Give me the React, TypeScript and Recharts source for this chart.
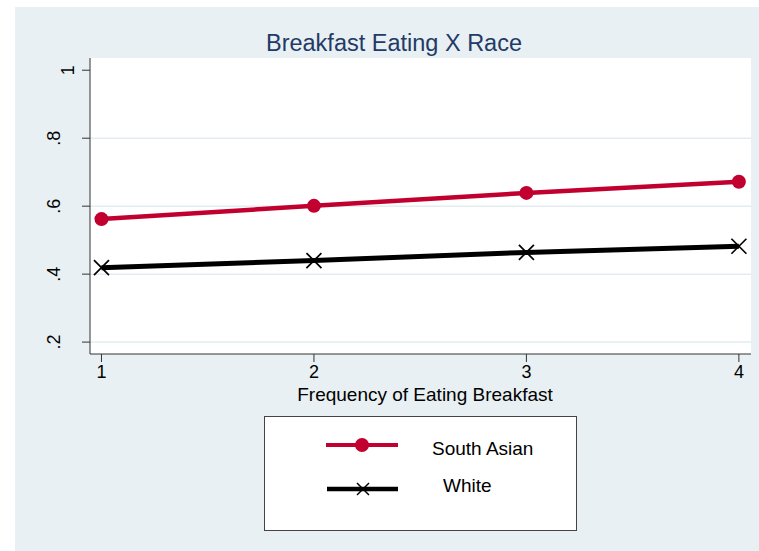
import React from "react";
import { LineChart, Line, XAxis, YAxis, CartesianGrid } from "recharts";

// Breakfast frequency (1–4) against predicted proportion, by race
const freq = [1, 2, 3, 4];
const southAsian = [0.562, 0.601, 0.639, 0.672];
const white = [0.419, 0.44, 0.464, 0.482];

const xTicks = [1, 2, 3, 4];
const yTicks = [0.2, 0.4, 0.6, 0.8, 1];
const gridValues = [0.2, 0.4, 0.6, 0.8];

const seriesNames = ["South Asian", "White"];
const seriesColors = ["#C1002F", "#000000"];

const data = freq.map((f, i) => ({ freq: f, southAsian: southAsian[i], white: white[i] }));

const FONT = "'Liberation Sans', Arial, sans-serif";
const BG = "#E8F0F3";
const GRID = "#E3ECEF";
const AXIS = "#333333";

// Stata-style labels drop the leading zero: .2, .4, ..., 1
const fmt = (v: number) => (v >= 1 ? String(v) : String(v).replace(/^0/, ""));

const YTick = (props: any) => {
  const { x, y, payload } = props;
  const v = payload.value as number;
  const bx = x + (v >= 1 ? -6 : -20);
  return (
    <text
      x={bx}
      y={y}
      transform={`rotate(-90, ${bx}, ${y})`}
      textAnchor="middle"
      fontFamily={FONT}
      fontSize={18}
      fill="#000"
    >
      {fmt(v)}
    </text>
  );
};

const XTick = (props: any) => {
  const { x, y, payload } = props;
  return (
    <text x={x} y={y + 16} textAnchor="middle" fontFamily={FONT} fontSize={18} fill="#000">
      {payload.value}
    </text>
  );
};

const CircleDot = (props: any) => {
  const { cx, cy } = props;
  if (cx == null || cy == null) return null;
  return <circle key={`c-${cx}`} cx={cx} cy={cy} r={7} fill={seriesColors[0]} />;
};

const CrossDot = (props: any) => {
  const { cx, cy } = props;
  if (cx == null || cy == null) return null;
  const h = 7.5;
  return (
    <g key={`x-${cx}`} stroke="#000" strokeWidth={1.7}>
      <line x1={cx - h} y1={cy - h} x2={cx + h} y2={cy + h} />
      <line x1={cx - h} y1={cy + h} x2={cx + h} y2={cy - h} />
    </g>
  );
};

const LegendBox = () => (
  <div
    style={{
      position: "absolute",
      left: 264,
      top: 416,
      width: 313,
      height: 115,
      background: "#fff",
      border: "1px solid #444",
      boxSizing: "border-box",
    }}
  >
    <svg width={313} height={115} style={{ position: "absolute", left: -1, top: -1 }}>
      <line x1={62} y1={29} x2={134} y2={29} stroke={seriesColors[0]} strokeWidth={4} />
      <circle cx={98} cy={29} r={7} fill={seriesColors[0]} />
      <text x={168} y={39} fontFamily={FONT} fontSize={19} fill="#000">
        {seriesNames[0]}
      </text>
      <line x1={63} y1={73} x2={134} y2={73} stroke={seriesColors[1]} strokeWidth={4.5} />
      <g stroke="#000" strokeWidth={1.5}>
        <line x1={93} y1={67} x2={105} y2={79} />
        <line x1={93} y1={79} x2={105} y2={67} />
      </g>
      <text x={179} y={76} fontFamily={FONT} fontSize={19} fill="#000">
        {seriesNames[1]}
      </text>
    </svg>
  </div>
);

export default function App() {
  return (
    <div style={{ position: "absolute", left: 0, top: 0, width: 759, height: 551, background: "#fff" }}>
      <div style={{ position: "absolute", left: 15, top: 7, width: 744, height: 544, background: BG }} />
      <div style={{ position: "absolute", left: 0, top: 0 }}>
        <LineChart
          width={759}
          height={551}
          data={data}
          margin={{ top: 58, right: 8, bottom: 167, left: 30 }}
        >
          <CartesianGrid
            fill="#fff"
            vertical={false}
            stroke={GRID}
            strokeWidth={1.5}
            horizontalValues={gridValues}
          />
          <XAxis
            type="number"
            dataKey="freq"
            domain={[0.946, 4.057]}
            ticks={xTicks}
            allowDataOverflow
            height={30}
            tickSize={8}
            tickMargin={0}
            stroke={AXIS}
            tick={<XTick />}
          />
          <YAxis
            type="number"
            domain={[0.165, 1.036]}
            ticks={yTicks}
            allowDataOverflow
            width={60}
            tickSize={8}
            tickMargin={2}
            stroke={AXIS}
            tick={<YTick />}
          />
          <Line
            dataKey="southAsian"
            stroke={seriesColors[0]}
            strokeWidth={4.5}
            dot={<CircleDot />}
            activeDot={false}
            isAnimationActive={false}
          />
          <Line
            dataKey="white"
            stroke={seriesColors[1]}
            strokeWidth={5}
            dot={<CrossDot />}
            activeDot={false}
            isAnimationActive={false}
          />
        </LineChart>
      </div>
      <svg
        width={759}
        height={551}
        style={{ position: "absolute", left: 0, top: 0, pointerEvents: "none" }}
      >
        <text x={394} y={51} textAnchor="middle" fontFamily={FONT} fontSize={23.5} fill="#233A66">
          Breakfast Eating X Race
        </text>
        <text x={425} y={401} textAnchor="middle" fontFamily={FONT} fontSize={19} fill="#000">
          Frequency of Eating Breakfast
        </text>
      </svg>
      <LegendBox />
    </div>
  );
}
